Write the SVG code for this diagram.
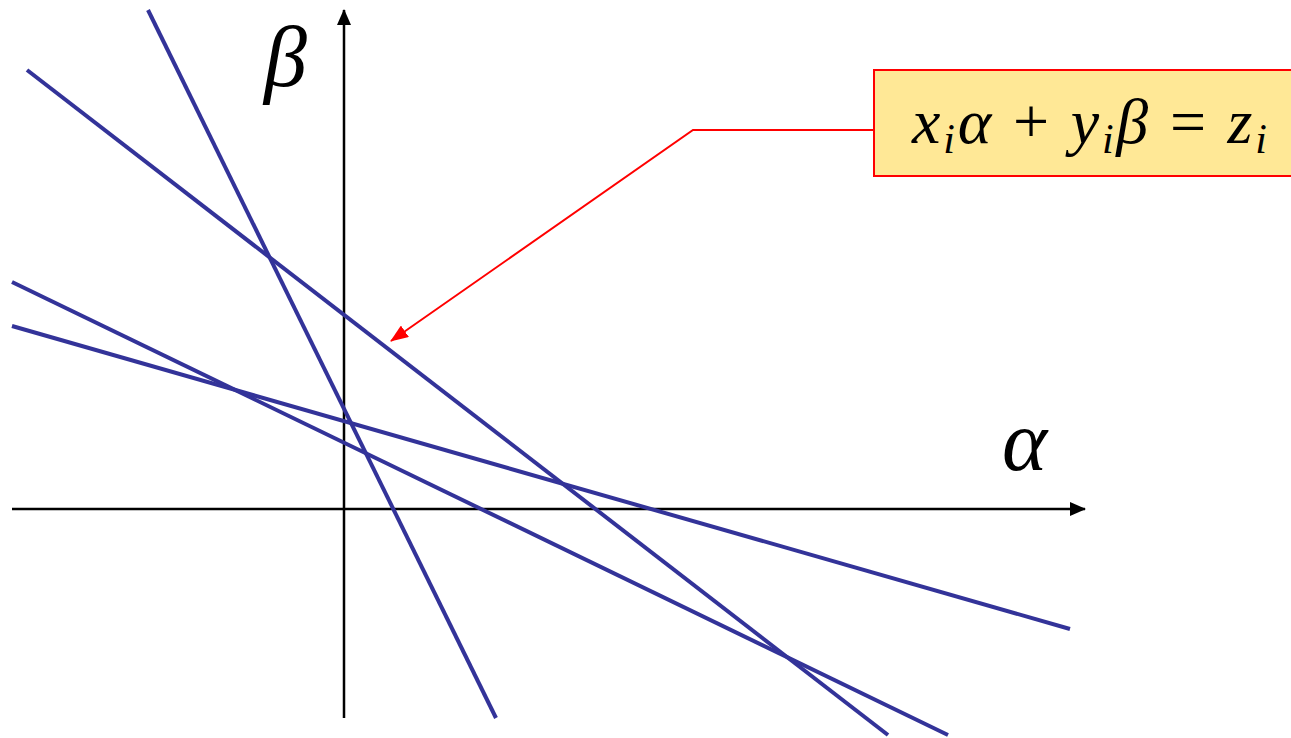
<svg xmlns="http://www.w3.org/2000/svg" width="1291" height="738" viewBox="0 0 1291 738">
<defs>
<marker id="ah" markerWidth="16" markerHeight="14" refX="15" refY="7" orient="auto" markerUnits="userSpaceOnUse" viewBox="0 0 16 14"><path d="M0,0 L16,7 L0,14 z" fill="#000"/></marker>
<marker id="rh" markerWidth="18" markerHeight="14" refX="17" refY="7" orient="auto" markerUnits="userSpaceOnUse" viewBox="0 0 18 14"><path d="M0,0 L18,7 L0,14 z" fill="#f00"/></marker>
</defs>
<rect width="1291" height="738" fill="#fff"/>
<g id="axes" stroke="#000" stroke-width="2.5" fill="none">
<line x1="12" y1="509" x2="1085" y2="509" marker-end="url(#ah)"/>
<line x1="344" y1="718" x2="344" y2="10" marker-end="url(#ah)"/>
</g>
<g id="lines" stroke="#333399" stroke-width="4" fill="none">
<line x1="148" y1="10" x2="496" y2="718"/>
<line x1="27" y1="70" x2="888" y2="735"/>
<line x1="12" y1="282" x2="948" y2="735"/>
<line x1="12" y1="326" x2="1070" y2="629"/>
</g>
<g id="connectors">
<polyline points="873,130 693,130 391,341" fill="none" stroke="#f00" stroke-width="2" marker-end="url(#rh)"/>
</g>
<g id="label">
<rect x="874" y="70" width="420" height="106" fill="#ffe896" stroke="#f00" stroke-width="2"/>
<text x="912" y="143" font-size="64" font-family="Liberation Serif, Times New Roman, serif" font-style="italic" fill="#000" textLength="355" lengthAdjust="spacing">x<tspan font-size="42" dy="10">i</tspan><tspan dy="-10">α</tspan><tspan font-style="normal"> + </tspan>y<tspan font-size="42" dy="10">i</tspan><tspan dy="-10">β</tspan><tspan font-style="normal"> = </tspan>z<tspan font-size="42" dy="10">i</tspan></text>
</g>
<text x="264" y="86" font-size="86" font-family="Liberation Serif, Times New Roman, serif" font-style="italic" fill="#000">β</text>
<text x="1002" y="470" font-size="86" font-family="Liberation Serif, Times New Roman, serif" font-style="italic" fill="#000">α</text>
</svg>
